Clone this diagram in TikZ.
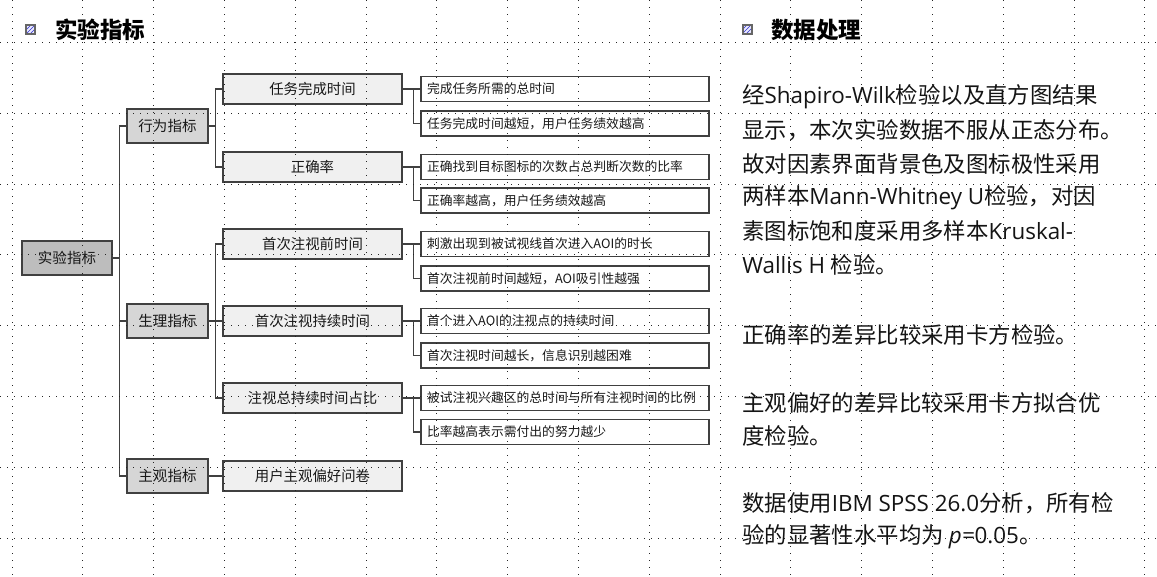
\documentclass[tikz,border=0pt]{standalone}
\usepackage{fontspec}
\setmainfont{Noto Sans CJK SC}[AutoFakeSlant=0.2]
\newfontfamily\latinf{Open Sans}
\usetikzlibrary{patterns}
\begin{document}
\begin{tikzpicture}[x=0.75pt,y=-0.75pt,
  box/.style={draw=black!75, line width=1.1pt, inner sep=0pt, align=center, text=black!90},
  rootbox/.style={box, fill=black!26, minimum width=67.5pt, minimum height=25.5pt, font=\fontsize{10.9pt}{13pt}\selectfont},
  catbox/.style={box, fill=black!16, minimum width=60.75pt, minimum height=25.5pt, font=\fontsize{10.9pt}{13pt}\selectfont},
  itembox/.style={box, fill=black!6, minimum width=134.25pt, minimum height=22.5pt, font=\fontsize{10.8pt}{13pt}\selectfont},
  descbox/.style={box, fill=white, minimum height=18.75pt, text width=207pt, inner xsep=4.5pt, align=left, font=\fontsize{9.6pt}{11pt}\selectfont},
  conn/.style={draw=black!75, line width=1.1pt},
  titletext/.style={anchor=west, inner sep=0pt, font=\fontsize{16.9pt}{20pt}\selectfont\bfseries},
  bodytext/.style={anchor=west, inner sep=0pt, font=\fontsize{16.8pt}{20pt}\selectfont, text=black!92},
  gridline/.style={black!85, line width=0.75pt, dash pattern=on 0.75pt off 4.5pt},
  iconbox/.style={draw=black!60, line width=0.8pt, pattern=north east lines, pattern color=blue!60!gray}
]
\useasboundingbox (0,0) rectangle (1157,576);
\fill[white] (0,0) rectangle (1157,576);

% title icons
\fill[blue!8] (26,25) rectangle (35,34);
\path[iconbox] (26,25) rectangle (35,34);
\fill[blue!8] (743,25) rectangle (752,34);
\path[iconbox] (743,25) rectangle (752,34);
\node[titletext] (t-left) at (55,30) {实验指标};
\node[titletext] (t-right) at (771,30) {数据处理};

% tree
\node[rootbox] (root) at (67,258) {实验指标};

\node[catbox] (c1) at (167.5,126) {行为指标};
\node[catbox] (c2) at (167.5,321) {生理指标};
\node[catbox] (c3) at (167.5,476) {主观指标};

\node[itembox] (i1) at (312.5,89) {任务完成时间};
\node[itembox] (i2) at (312.5,167) {正确率};
\node[itembox] (i3) at (312.5,244) {首次注视前时间};
\node[itembox] (i4) at (312.5,321) {首次注视持续时间};
\node[itembox] (i5) at (312.5,398) {注视总持续时间占比};
\node[itembox] (i6) at (312.5,476) {用户主观偏好问卷};

\node[descbox] (d1a) at (565,89) {完成任务所需的总时间};
\node[descbox] (d1b) at (565,123.5) {任务完成时间越短，用户任务绩效越高};
\node[descbox] (d2a) at (565,167) {正确找到目标图标的次数占总判断次数的比率};
\node[descbox] (d2b) at (565,200.5) {正确率越高，用户任务绩效越高};
\node[descbox] (d3a) at (565,244) {刺激出现到被试视线首次进入AOI的时长};
\node[descbox] (d3b) at (565,278.5) {首次注视前时间越短，AOI吸引性越强};
\node[descbox] (d4a) at (565,321) {首个进入AOI的注视点的持续时间};
\node[descbox] (d4b) at (565,355.5) {首次注视时间越长，信息识别越困难};
\node[descbox] (d5a) at (565,398) {被试注视兴趣区的总时间与所有注视时间的比例};
\node[descbox] (d5b) at (565,432) {比率越高表示需付出的努力越少};

% connectors root -> categories
\draw[conn] (root.east) -- ++(7,0) coordinate (rb) |- (c1.west);
\draw[conn] (rb) |- (c2.west);
\draw[conn] (rb) |- (c3.west);
% categories -> items
\draw[conn] (c1.east) -- ++(7,0) coordinate (cb1) |- (i1.west);
\draw[conn] (cb1) |- (i2.west);
\draw[conn] (c2.east) -- ++(7,0) coordinate (cb2) |- (i3.west);
\draw[conn] (cb2) |- (i4.west);
\draw[conn] (cb2) |- (i5.west);
\draw[conn] (c3.east) -- (i6.west);
% items -> descriptions
\draw[conn] (i1.east) -- ++(11,0) coordinate (e1) -- (d1a.west);
\draw[conn] (e1) |- (d1b.west);
\draw[conn] (i2.east) -- ++(11,0) coordinate (e2) -- (d2a.west);
\draw[conn] (e2) |- (d2b.west);
\draw[conn] (i3.east) -- ++(11,0) coordinate (e3) -- (d3a.west);
\draw[conn] (e3) |- (d3b.west);
\draw[conn] (i4.east) -- ++(11,0) coordinate (e4) -- (d4a.west);
\draw[conn] (e4) |- (d4b.west);
\draw[conn] (i5.east) -- ++(11,0) coordinate (e5) -- (d5a.west);
\draw[conn] (e5) |- (d5b.west);

% right text
\node[bodytext] (p1) at (742,97) {经{\latinf Shapiro-Wilk}检验以及直方图结果};
\node[bodytext] (p2) at (742,130.5) {显示，本次实验数据不服从正态分布。};
\node[bodytext] (p3) at (742,164) {故对因素界面背景色及图标极性采用};
\node[bodytext] (p4) at (742,197.5) {两样本{\latinf Mann-Whitney U}检验，对因};
\node[bodytext] (p5) at (742,231) {素图标饱和度采用多样本{\latinf Kruskal-}};
\node[bodytext] (p6) at (742,264.5) {{\latinf Wallis H }检验。};
\node[bodytext] (p7) at (742,335) {正确率的差异比较采用卡方检验。};
\node[bodytext] (p8) at (742,403) {主观偏好的差异比较采用卡方拟合优};
\node[bodytext] (p9) at (742,436) {度检验。};
\node[bodytext] (p10) at (742,503) {数据使用{\latinf IBM SPSS 26.0}分析，所有检};
\node[bodytext] (p11) at (742,537) {验的显著性水平均为 {\latinf\itshape p=}{\latinf 0.05}。};

% dotted grid overlay
\foreach \i in {0,...,7} \draw[gridline] (0,42.3+70.85*\i) -- (1157,42.3+70.85*\i);
\foreach \i in {0,...,16} \draw[gridline] (12+70.8*\i,0) -- (12+70.8*\i,576);
\end{tikzpicture}
\end{document}
